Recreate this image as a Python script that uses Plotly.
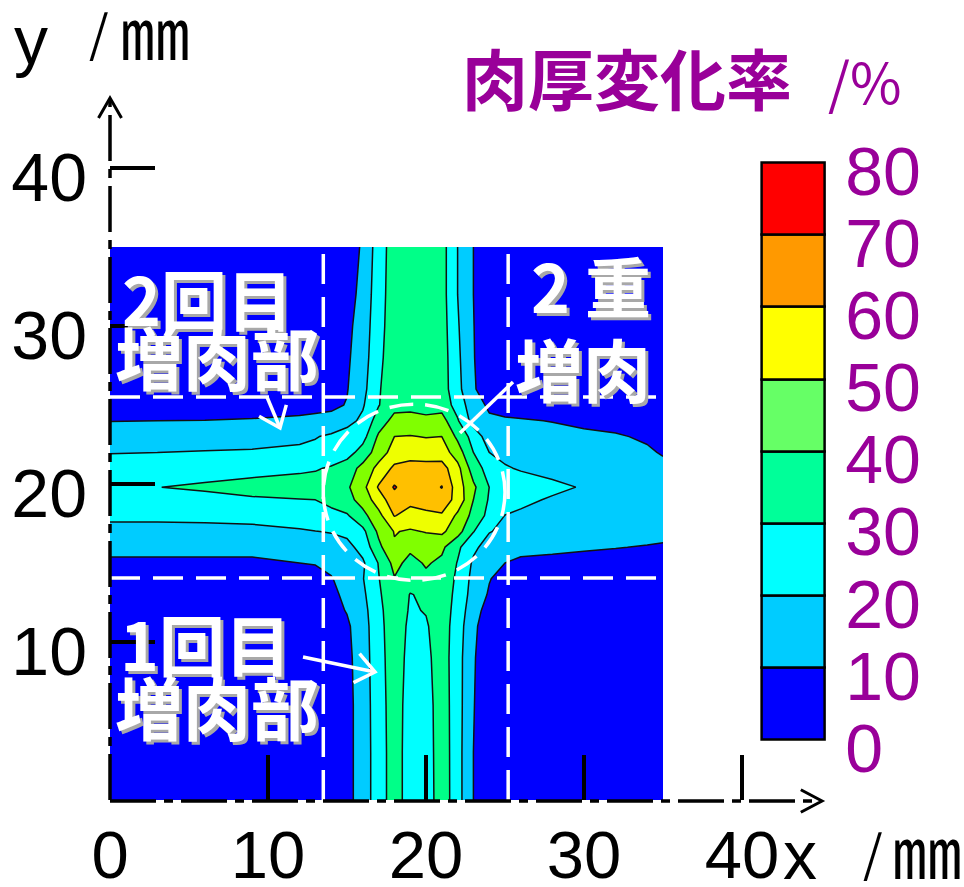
import math
import plotly.graph_objects as go

# ---- measured wall-thickness change (%) on a grid, x/y in mm ----
x_mm = [0, 3, 6, 9, 12, 13, 14, 15, 16, 17, 18, 19, 20, 21, 22, 23, 24, 25, 26, 28, 30, 32, 34, 35]
y_mm = [0, 3, 6, 9, 11, 12, 13, 14, 15, 16, 17, 18, 19, 19.8, 21, 22, 23, 24, 25, 26, 28, 30, 32, 35]

thickness_change = [
    [1, 1, 1, 1, 1.5, 2, 3, 7, 14.5, 25.5, 34.5, 25.5, 23.8, 36.2, 23.8, 10, 3, 2, 1.5, 1, 1, 1, 1, 1],
    [1, 1, 1, 1, 1.5, 2, 3, 7, 14.5, 25.5, 34.5, 25.5, 24.5, 36, 23.8, 10, 3, 2, 1.5, 1, 1, 1, 1, 1],
    [1, 1, 1, 1, 1.5, 2, 3, 7, 14.5, 26, 34.5, 26, 25.5, 35.5, 24, 10.5, 3, 2, 1.5, 1, 1, 1, 1, 1],
    [1.5, 1.5, 1.5, 1.5, 2, 2.5, 3.5, 7.5, 15, 26.5, 35, 27, 27.5, 35, 24, 11, 3.5, 2, 1.5, 1.5, 1.5, 1.5, 1.5, 1.5],
    [2, 2, 2, 2, 2.5, 3, 4, 8.5, 15.5, 27, 35.5, 28, 29, 35, 25, 12, 4.5, 2.5, 2, 2, 2, 2, 2, 2],
    [2.5, 2.5, 2.5, 3, 4, 5, 7, 10.5, 16.5, 27.5, 36, 29, 30.5, 35.5, 26, 14, 6, 3.5, 3, 2.5, 2.5, 2.5, 2.5, 2.5],
    [3.5, 3.5, 3.5, 4, 5.5, 6.5, 8, 12, 18, 28.5, 37, 29.6, 31.5, 36, 27, 16, 9, 5, 4, 3.5, 3, 3, 3, 3],
    [5, 5, 5, 5.5, 7, 8, 9.5, 13.5, 19.5, 29.5, 39.5, 34, 38, 37, 28, 17, 10.5, 6.5, 5, 4.5, 4, 4, 4, 4],
    [8.5, 8.5, 8.5, 8.5, 10, 10.3, 12, 15, 18.5, 30.5, 43, 37, 41, 38, 29.5, 18.5, 12.5, 10, 8, 7.5, 7, 6.5, 6, 6],
    [12.5, 12.5, 12.5, 12.5, 13.5, 14.5, 16, 17, 23.5, 37.5, 49, 42, 45, 42, 32, 22, 16, 14, 13, 12, 11, 10.3, 9.5, 9],
    [17, 17, 17, 17.5, 19, 19.8, 20.5, 22.5, 27.5, 42, 50.5, 49, 50.5, 52, 44, 30.5, 20.5, 18, 17, 16, 15, 14, 13, 12.5],
    [22, 22, 22.5, 23, 25, 26, 27.5, 29, 37, 47, 60.5, 56, 58, 59, 48, 37, 27, 19.8, 18.5, 17.5, 16.5, 15.5, 14.5, 14],
    [26, 27, 28, 29.3, 29.8, 30, 32.5, 36.5, 44, 55, 66, 63, 64, 65, 57, 40, 29, 25, 22, 19, 17.5, 16.5, 15.5, 15],
    [28.7, 29.9, 31, 32, 33, 34, 35.5, 38.5, 47, 61, 71, 64, 65, 70.5, 55, 42, 30, 27, 25.5, 22, 19.3, 17.5, 16, 15.5],
    [25.5, 26, 27, 28, 28.8, 29.2, 31, 35, 43, 53, 62, 63.5, 63, 64, 53, 35, 26, 21, 19, 17, 15.5, 14, 12.5, 11.5],
    [19.5, 20, 20.5, 21, 22, 22.5, 24, 26, 34, 45, 54, 56, 56, 55, 45, 30, 20, 17, 15.5, 14, 13, 12, 10.8, 9.5],
    [14.5, 15, 15.5, 16, 18, 19.5, 21.5, 24, 26.5, 41.5, 50, 50.5, 49.5, 50, 38, 26, 15, 14, 13, 12, 11, 10.6, 9.2, 8],
    [9.8, 10, 10.1, 10.4, 11, 11.5, 13, 17, 22, 35, 43, 42.5, 41.5, 44, 31, 16, 11.5, 10.8, 10.5, 9.8, 9, 8, 7, 6.5],
    [7, 7, 7, 7.5, 8, 8.3, 8, 10.5, 19, 29.5, 37, 38, 37.5, 36, 26, 14, 8.5, 7.5, 7, 6.5, 6, 5.5, 5, 5],
    [5, 5, 5, 5, 5.5, 6, 7, 9.5, 17, 29, 36.5, 38, 37.5, 35, 23, 11, 5, 4, 4, 3.5, 3.5, 3, 3, 3],
    [3, 3, 3, 3, 3.5, 4, 5, 8.5, 15.5, 27.5, 36, 38, 38, 35, 22, 10.5, 4, 3, 3, 2.5, 2.5, 2.5, 2.5, 2.5],
    [2.5, 2.5, 2.5, 2.5, 3, 3.5, 4.5, 7.5, 14.5, 26.5, 35.5, 37.5, 37.5, 34.5, 21, 10.3, 3.5, 2.5, 2.5, 2.5, 2.5, 2.5, 2.5, 2.5],
    [2.5, 2.5, 2.5, 2.5, 3, 3, 4, 6, 13, 26, 35, 37, 37, 34, 20, 10, 3.5, 2.5, 2.5, 2.5, 2.5, 2.5, 2.5, 2.5],
    [2.5, 2.5, 2.5, 2.5, 3, 3, 3.5, 4, 11.5, 25, 35, 37, 37, 34, 20, 10, 4, 2.5, 2.5, 2.5, 2.5, 2.5, 2.5, 2.5],
]

levels = [0, 10, 20, 30, 40, 50, 60, 70, 80]
map_colors = ["#0000ff", "#00ccff", "#00ffff", "#00ff88", "#80ff00", "#eeff00", "#ffc000", "#ff0000"]
legend_colors = ["#0000ff", "#00ccff", "#00ffff", "#00ff99", "#66ff66", "#ffff00", "#ff9900", "#ff0000"]
x_ticks = [0, 10, 20, 30, 40]
x_ticktext = ["0", "10", "20", "30", "40"]
y_ticks = [0, 10, 20, 30, 40]
y_ticktext = ["", "10", "20", "30", "40"]

# ---- page geometry ----
W, H = 964, 887
L, B = 110, 87
PLOT_W, PLOT_H = W - L, H - B
PX_PER_MM = 15.8
PURPLE = "#990099"
LATIN = "Liberation Sans, Arial, sans-serif"
CJK = "Noto Sans CJK JP"


def pxx(p):
    return (p - L) / PLOT_W


def pxy(p):
    return (PLOT_H - p) / PLOT_H


# stepped colour scale: one flat colour per 10 % band
n_bands = len(map_colors)
scale = []
for i, c in enumerate(map_colors):
    scale.append([i / n_bands, c])
    scale.append([(i + 1) / n_bands, c])

fig = go.Figure()
fig.add_trace(go.Contour(
    x=x_mm, y=y_mm, z=thickness_change,
    zmin=levels[0], zmax=levels[-1], colorscale=scale, showscale=False,
    contours=dict(start=levels[0], end=levels[-1], size=10, coloring="fill"),
    line=dict(color="#111111", width=1.5, smoothing=0),
    hoverinfo="skip",
))

# legend bar for the contour bands
fig.add_trace(go.Bar(
    x=[0] * (len(levels) - 1), y=[10] * (len(levels) - 1), base=levels[:-1], width=1,
    marker=dict(color=legend_colors, line=dict(color="black", width=2.5)),
    xaxis="x2", yaxis="y2", hoverinfo="skip", showlegend=False,
))

shapes = []
annos = []

# white dashed guide lines and overlap circle
guide = dict(color="white", width=3.5, dash="30px,13px")
for xv in (13.5, 25.2):
    shapes.append(dict(type="line", xref="x", yref="y", x0=xv, x1=xv, y0=0, y1=35, line=guide))
for yv in (14.05, 25.5):
    shapes.append(dict(type="line", xref="x", yref="y", x0=0, x1=35, y0=yv, y1=yv, line=guide))
shapes.append(dict(type="circle", xref="x", yref="y", x0=13.5, x1=25.0, y0=13.9, y1=25.05,
                   line=dict(color="white", width=3.5, dash="24px,12px")))


def v_head(tip, tail, length, ang):
    dx, dy = tail[0] - tip[0], tail[1] - tip[1]
    d = math.hypot(dx, dy)
    ux, uy = dx / d, dy / d
    pts = []
    for s in (1, -1):
        a = math.radians(ang * s)
        rx = ux * math.cos(a) - uy * math.sin(a)
        ry = ux * math.sin(a) + uy * math.cos(a)
        pts.append((tip[0] + rx * length, tip[1] + ry * length))
    return (f"M {pxx(pts[0][0])},{pxy(pts[0][1])} L {pxx(tip[0])},{pxy(tip[1])} "
            f"L {pxx(pts[1][0])},{pxy(pts[1][1])}")


def seg(p0, p1, color, width, dash="solid"):
    shapes.append(dict(type="line", xref="paper", yref="paper",
                       x0=pxx(p0[0]), y0=pxy(p0[1]), x1=pxx(p1[0]), y1=pxy(p1[1]),
                       line=dict(color=color, width=width, dash=dash)))


# coordinate axes (dash-dot with open arrow heads)
axis_dash = "46px,8px,9px,8px"
seg((110, 800), (110, 99), "black", 3.5, axis_dash)
seg((110, 801), (821, 801), "black", 3.5, axis_dash)
shapes.append(dict(type="path", xref="paper", yref="paper", path=v_head((110, 98), (110, 200), 23, 30),
                   line=dict(color="black", width=3)))
shapes.append(dict(type="path", xref="paper", yref="paper", path=v_head((822, 801), (700, 801), 24, 28),
                   line=dict(color="black", width=3)))

# white pointer arrows
seg((267, 397), (280, 428), "white", 3.5)
shapes.append(dict(type="path", xref="paper", yref="paper", path=v_head((280, 428), (267, 397), 24, 38),
                   line=dict(color="white", width=3.5)))
seg((513, 382), (460, 433), "white", 3.5)
seg((303, 657), (375, 672), "white", 3.5)
shapes.append(dict(type="path", xref="paper", yref="paper", path=v_head((375, 672), (303, 657), 24, 38),
                   line=dict(color="white", width=3.5)))


def label(text, cx, cy, size, color, family, bold=False, shadow=False, anchor="center"):
    t = f"<b>{text}</b>" if bold else text
    if shadow:
        annos.append(dict(text=t, x=pxx(cx), y=pxy(cy), xref="paper", yref="paper",
                          xanchor=anchor, yanchor="middle", showarrow=False, borderpad=0,
                          xshift=3, yshift=-3, font=dict(size=size, color="#a8a8a8", family=family)))
    annos.append(dict(text=t, x=pxx(cx), y=pxy(cy), xref="paper", yref="paper",
                      xanchor=anchor, yanchor="middle", showarrow=False, borderpad=0,
                      font=dict(size=size, color=color, family=family)))


# region captions
label("2回目", 207, 297, 66, "white", CJK, bold=True, shadow=True)
label("増肉部", 217, 355, 68, "white", CJK, bold=True, shadow=True)
label("2 重", 591, 284, 66, "white", CJK, bold=True, shadow=True)
label("増肉", 583, 367, 68, "white", CJK, bold=True, shadow=True)
label("1回目", 205, 642, 66, "white", CJK, bold=True, shadow=True)
label("増肉部", 217, 705, 68, "white", CJK, bold=True, shadow=True)

# axis names and legend title
label("y", 31, 40, 68, "black", LATIN)
label("/", 99, 30, 50, "black", CJK)
label("㎜", 155, 30, 70, "black", CJK)
label("x", 800, 855, 68, "black", LATIN)
label("/", 873, 850, 50, "black", CJK)
label("㎜", 963, 848, 70, "black", CJK, anchor="right")
label("肉厚変化率", 627, 76, 66, PURPLE, CJK, bold=True)
label("/%", 865, 80, 56, PURPLE, CJK)

# legend bar placement (0 -> 740 px, 80 -> 163 px; bar 762..825 px)
unit_y = (740 - 163) / 80
cb_y0, cb_y1 = 740 + unit_y * 1, 163 - unit_y * 1
cb_x0, cb_x1 = 762 - 63 * 0.05, 825 + 63 * 0.05

fig.update_layout(
    width=W, height=H,
    margin=dict(l=L, r=0, t=0, b=B, pad=0, autoexpand=False),
    paper_bgcolor="white", plot_bgcolor="white",
    showlegend=False,
    shapes=shapes, annotations=annos,
    xaxis=dict(range=[0, PLOT_W / PX_PER_MM], domain=[0, 1], tickvals=x_ticks, ticktext=x_ticktext,
               ticks="inside", ticklen=45, tickwidth=3.5, tickcolor="black", automargin=False,
               showgrid=False, zeroline=False, showline=False, ticklabelstandoff=10,
               tickfont=dict(size=67, color="black", family=LATIN)),
    yaxis=dict(range=[0, PLOT_H / PX_PER_MM], domain=[0, 1], tickvals=y_ticks, ticktext=y_ticktext,
               ticks="inside", ticklen=45, tickwidth=3.5, tickcolor="black", automargin=False,
               showgrid=False, zeroline=False, showline=False, ticklabelstandoff=22,
               ticklabelshift=9,
               tickfont=dict(size=68, color="black", family=LATIN)),
    xaxis2=dict(domain=[pxx(cb_x0), pxx(cb_x1)], range=[-0.55, 0.55], visible=False,
                anchor="y2", fixedrange=True, automargin=False),
    yaxis2=dict(domain=[pxy(cb_y0), pxy(cb_y1)], range=[-1, 81], anchor="x2", side="right",
                tickvals=levels, ticks="", showgrid=False, zeroline=False, showline=False,
                ticklabelstandoff=16, ticklabelshift=8, automargin=False,
                tickfont=dict(size=68, color=PURPLE, family=LATIN)),
    bargap=0,
)

fig.write_html("out.html")
